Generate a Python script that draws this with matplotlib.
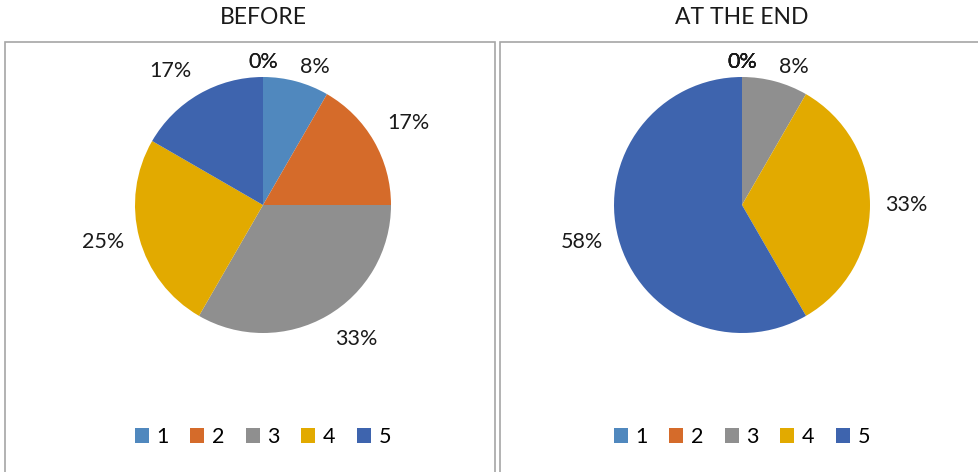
import matplotlib
matplotlib.use("Agg")
import matplotlib.pyplot as plt
from matplotlib.patches import Rectangle
import numpy as np

plt.rcParams['font.family'] = ['Lato', 'DejaVu Sans']

categories = ['1', '2', '3', '4', '5', '', '']
before = [1, 2, 4, 3, 2, 0, 0]
at_the_end = [0, 0, 1, 4, 7, 0, 0]
titles = ['BEFORE', 'AT THE END']
colors = ['#5088be', '#d56b2a', '#8f8f8f', '#e2aa00', '#3e64ae', '#5088be', '#d56b2a']

W, H = 979, 472
fig = plt.figure(figsize=(W / 100, H / 100), dpi=100)

# panel frames
for x0, x1 in [(5, 495), (500, 990)]:
    fig.patches.append(Rectangle((x0 / W, -0.05), (x1 - x0) / W, (H - 42) / H + 0.05,
                                 transform=fig.transFigure, fill=False,
                                 edgecolor='#a6a6a6', linewidth=1.2))

R = 128
half = 1.4 * R
for cx, vals, title in [(263, before, titles[0]), (742, at_the_end, titles[1])]:
    cy = 205
    ax = fig.add_axes([(cx - half) / W, (H - cy - half) / H, 2 * half / W, 2 * half / H])
    wedges, texts = ax.pie(vals, colors=colors, startangle=90, counterclock=False,
                           radius=1.0, wedgeprops=dict(linewidth=0))
    total = sum(vals)
    # percentage labels sit just outside the rim, aligned away from the centre
    for w, v in zip(wedges, vals):
        ang = np.deg2rad((w.theta1 + w.theta2) / 2)
        c, s = np.cos(ang), np.sin(ang)
        ha = 'left' if c > 0.05 else ('right' if c < -0.05 else 'center')
        if abs(s) < 0.3 or abs(s) > 0.9:
            va = 'center'
        else:
            va = 'bottom' if s > 0 else 'top'
        d = 1.12
        ax.text(d * c, d * s, f'{round(100 * v / total):.0f}%',
                ha=ha, va=va, fontsize=15.5, color='#1a1a1a')
    ax.set_xlim(-1.4, 1.4)
    ax.set_ylim(-1.4, 1.4)
    ax.set_aspect('equal')
    ax.axis('off')
    fig.text(cx / W, 1 - 18 / H, title, ha='center', va='center', fontsize=16.5, color='#1a1a1a')
    fig.legend(wedges[:5], categories[:5], loc='center', ncol=5,
               bbox_to_anchor=(cx / W, 1 - 437 / H), frameon=False, fontsize=15.5,
               handlelength=0.65, handleheight=0.65, handletextpad=0.35, columnspacing=1.0)

fig.savefig('out.png', dpi=100)
